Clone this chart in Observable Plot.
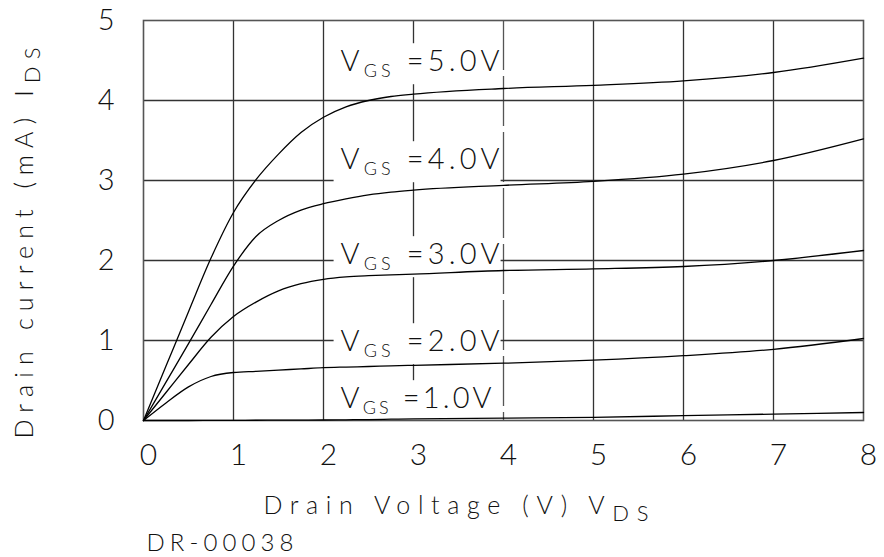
<!DOCTYPE html>
<html><head><meta charset="utf-8">
<script src="https://cdn.jsdelivr.net/npm/d3@7"></script>
<script src="https://cdn.jsdelivr.net/npm/@observablehq/plot@0.6"></script>
<style>body{margin:0;background:#fff}</style>
</head><body><div id="chart"></div>
<script>
// Drain voltage sample points (V)
const vds  = [0, 0.25, 0.5, 0.75, 1, 1.25, 1.5, 1.75, 2, 2.25, 2.5, 2.75, 3, 4, 5, 6, 7, 8];
// Drain current (mA) per gate voltage
const ids1 = [0, 0, 0, 0.001, 0.002, 0.003, 0.004, 0.005, 0.006, 0.009, 0.012, 0.016, 0.02, 0.03, 0.04, 0.06, 0.08, 0.10];
const ids2 = [0, 0.22, 0.42, 0.55, 0.60, 0.615, 0.63, 0.645, 0.66, 0.668, 0.675, 0.683, 0.69, 0.716, 0.754, 0.81, 0.89, 1.025];
const ids3 = [0, 0.35, 0.70, 1.04, 1.30, 1.48, 1.62, 1.71, 1.765, 1.795, 1.81, 1.82, 1.83, 1.875, 1.895, 1.925, 2.0, 2.125];
const ids4 = [0, 0.48, 0.96, 1.45, 1.93, 2.30, 2.50, 2.63, 2.71, 2.77, 2.82, 2.855, 2.88, 2.94, 2.99, 3.08, 3.25, 3.52];
const ids5 = [0, 0.68, 1.36, 2.03, 2.60, 3.01, 3.33, 3.60, 3.79, 3.92, 4.00, 4.05, 4.08, 4.15, 4.19, 4.245, 4.35, 4.53];
const vgs = ["1.0", "2.0", "3.0", "4.0", "5.0"];
const labelI = [0.154, 0.866, 1.954, 3.141, 4.366];   // current level where each label sits
const labelV = 2.19;                                  // drain voltage where labels start
const xTicks = [0, 1, 2, 3, 4, 5, 6, 7, 8];
const yTicks = [0, 1, 2, 3, 4, 5];
const xTitle = "Drain Voltage (V) V_DS";
const yTitle = "Drain current (mA) I_DS";
const drawingNo = "DR-00038";

const series = [ids1, ids2, ids3, ids4, ids5];
const curves = series.flatMap((ids, k) => vds.map((v, i) => ({v, i: ids[i], g: vgs[k]})));
const labels = vgs.map((g, k) => ({v: labelV, i: labelI[k], t: `V_GS =${g}V`}));

const FONT = "Lato, 'DejaVu Sans', sans-serif";

const svg = Plot.plot({
  width: 884, height: 557,
  marginLeft: 143, marginRight: 21, marginTop: 20, marginBottom: 137,
  style: {fontFamily: FONT, fontWeight: 300, background: "white", color: "#222"},
  x: {domain: [0, 8]},
  y: {domain: [0, 5]},
  marks: [
    Plot.gridX([1, 2, 3, 5, 6, 7], {stroke: "#333", strokeOpacity: 1, strokeWidth: 1.3}),
    Plot.gridX([4], {stroke: "#555", strokeOpacity: 1, strokeWidth: 1.3, strokeDasharray: "50,6"}),
    Plot.gridY([1, 2, 3, 4], {stroke: "#333", strokeOpacity: 1, strokeWidth: 1.3}),
    Plot.text(labels, {x: "v", y: "i", text: "t", textAnchor: "start", lineAnchor: "bottom",
      fontSize: 29, fontWeight: 300, fill: "#111"}),
    Plot.frame({stroke: "#555", strokeWidth: 1.6}),
    Plot.line(curves, {x: "v", y: "i", z: "g", stroke: "black", strokeWidth: 1.3, curve: "monotone-x"}),
    Plot.axisX(xTicks, {tickSize: 0, tickPadding: 23, dx: 5, fontSize: 30, fontWeight: 300, fill: "#111",
      tickFormat: d => String(d), label: null}),
    Plot.axisY(yTicks, {tickSize: 0, tickPadding: 29, fontSize: 29, fontWeight: 300, fill: "#111",
      tickFormat: d => String(d), label: null}),
    Plot.text([xTitle], {text: d => d, frameAnchor: "bottom-left", textAnchor: "start", lineAnchor: "bottom",
      dx: 120, dy: 93, fontSize: 25, fontWeight: 300, fill: "#111"}),
    Plot.text([yTitle], {text: d => d, frameAnchor: "bottom-left", textAnchor: "start", lineAnchor: "bottom",
      rotate: -90, dx: -111, dy: 18, fontSize: 25, fontWeight: 300, fill: "#111"}),
    Plot.text([drawingNo], {text: d => d, frameAnchor: "bottom-left", textAnchor: "start", lineAnchor: "bottom",
      dx: 3, dy: 130, fontSize: 24, fontWeight: 300, fill: "#111"})
  ]
});

document.getElementById("chart").appendChild(svg);

// subscripts, letter spacing matching the drawing's wide lettering, and white boxes behind curve labels
d3.select(svg).selectAll("text").each(function () {
  const t = this.textContent;
  const el = d3.select(this);
  let target = null;
  const m = t.match(/^(.*?)_([A-Z]+)(.*)$/);
  const isLabel = t.startsWith("V_GS");
  if (m) {
    const sub = isLabel ? 18 : 22;
    const shift = isLabel ? 6 : 7;
    el.text(null);
    el.append("tspan").text(m[1]);
    el.append("tspan").attr("dy", shift).attr("font-size", sub).text(m[2]);
    if (m[3]) el.append("tspan").attr("dy", -shift).text(m[3]);
    target = isLabel ? (t.includes("1.0") ? 151 : 159) : (t === xTitle ? 385 : 391);
  } else if (t === drawingNo) {
    target = 147;
  }
  if (target) {
    const n = this.textContent.length;
    const len = this.getComputedTextLength();
    const ls = (target - len) / (n - 1);
    el.style("letter-spacing", `${ls}px`);
    if (isLabel) {
      const b = this.getBBox();
      this.parentNode.insertBefore(
        d3.create("svg:rect")
          .attr("x", b.x - 7).attr("y", b.y + 1)
          .attr("width", b.width - ls + 8).attr("height", b.height + 2)
          .attr("transform", el.attr("transform"))
          .attr("fill", "white").node(),
        this);
    }
  }
});
</script>
</body></html>
